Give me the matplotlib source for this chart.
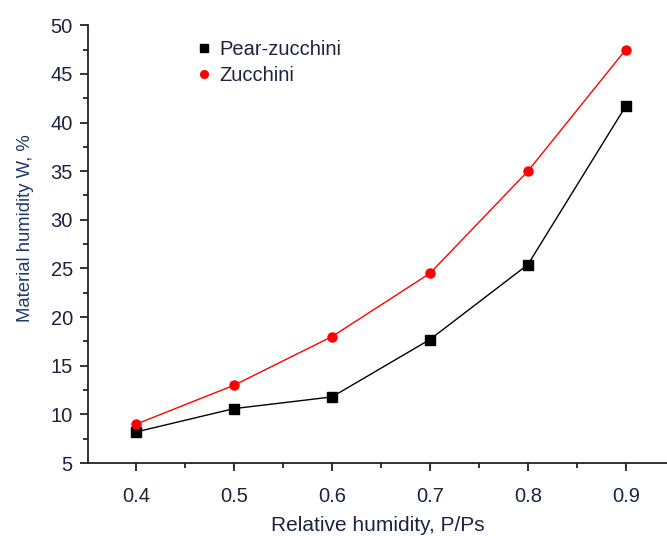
import matplotlib
matplotlib.use("Agg")
import matplotlib.pyplot as plt
from matplotlib.ticker import MultipleLocator

plt.rcParams['font.family'] = ['Liberation Sans', 'DejaVu Sans']

rh = [0.4, 0.5, 0.6, 0.7, 0.8, 0.9]
pear_zucchini = [8.2, 10.6, 11.8, 17.7, 25.4, 41.7]
zucchini = [9.0, 13.0, 18.0, 24.5, 35.0, 47.5]

txt = '#1c2340'
lbl = '#1f3a6e'

fig = plt.figure(figsize=(6.67, 5.36), dpi=100)
ax = fig.add_axes([0.132, 0.136, 0.868, 0.817])

ax.plot(rh, pear_zucchini, color='black', lw=1.0, marker='s', ms=6.5,
        label='Pear-zucchini')
ax.plot(rh, zucchini, color='red', lw=1.0, marker='o', ms=6.5,
        label='Zucchini')

ax.set_xlim(0.351, 0.942)
ax.set_ylim(5, 50)
ax.xaxis.set_major_locator(MultipleLocator(0.1))
ax.xaxis.set_minor_locator(MultipleLocator(0.05))
ax.yaxis.set_major_locator(MultipleLocator(5))
ax.yaxis.set_minor_locator(MultipleLocator(2.5))
ax.set_xticks(rh)
ax.set_xticklabels(['0.4', '0.5', '0.6', '0.7', '0.8', '0.9'])

for s in ['top', 'right']:
    ax.spines[s].set_visible(False)
for s in ['left', 'bottom']:
    ax.spines[s].set_linewidth(1.3)
    ax.spines[s].set_color('#222222')

ax.tick_params(which='major', direction='out', length=6, width=1.3,
               color='#222222', labelsize=14.5, labelcolor=txt)
ax.tick_params(axis='x', which='major', pad=11)
ax.tick_params(axis='y', which='major', pad=5)
ax.tick_params(which='minor', direction='out', length=3.5, width=1.3,
               color='#222222')

ax.set_xlabel('Relative humidity, P/Ps', fontsize=15, color=txt)
ax.set_ylabel('Material humidity W, %', fontsize=13.3, color=lbl)
ax.xaxis.set_label_coords(0.5, -0.121)
ax.yaxis.set_label_coords(-0.0925, 0.537)

leg = ax.legend(loc='upper left', bbox_to_anchor=(0.161, 1.008), frameon=False,
                fontsize=14.5, handlelength=0.5, handletextpad=0.5,
                labelspacing=0.35, markerscale=0.85)
for t in leg.get_texts():
    t.set_color(txt)
for h in leg.legend_handles:
    h.set_linestyle('none')

fig.savefig('out.png', dpi=100)
